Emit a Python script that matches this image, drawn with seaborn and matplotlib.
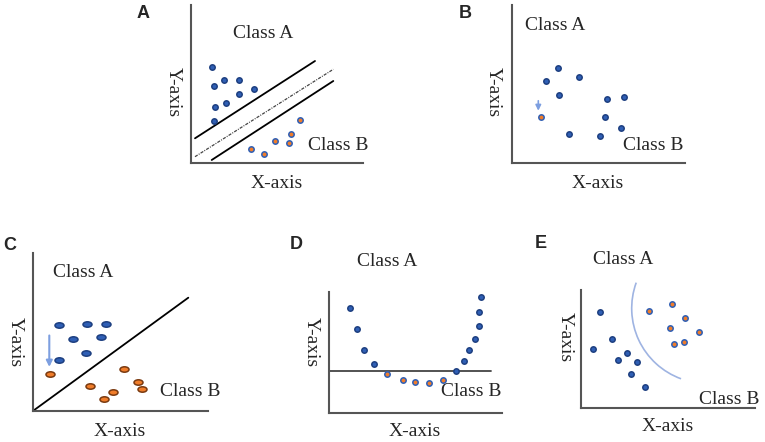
import numpy as np
import pandas as pd
import seaborn as sns
import matplotlib.pyplot as plt
from matplotlib.path import Path
from matplotlib.patches import Arc

sns.set_style("white")
plt.rcParams['font.family'] = ['Liberation Serif', 'DejaVu Serif']

# point positions per panel (pixel units from the axis corner, y up)
a_class_x = [20.7, 32.7, 48.3, 23, 63.3, 48.3, 34.7, 23.7, 22.7]
a_class_y = [96.3, 83, 83, 77, 74, 69.3, 59.7, 55.7, 42]
a_other_x = [60, 73.3, 84, 97.7, 100.3, 109]
a_other_y = [14.3, 9.3, 21.7, 19.7, 29, 43.3]

b_class_x = [46, 33.7, 67, 47, 94.7, 111.7, 92.7, 108.4, 57, 88]
b_class_y = [94.7, 81.7, 86.3, 67.7, 64.3, 66.3, 45.7, 35, 29, 27]
b_other_x = [28.4]
b_other_y = [45.7]

c_class_x = [26, 54, 72.7, 39.4, 67.7, 52.7, 26]
c_class_y = [85.4, 87, 87, 71.7, 73.4, 58, 50.7]
c_other_x = [16.7, 90.7, 104.4, 108.7, 56.7, 80, 70.7]
c_other_y = [36.7, 42, 28.7, 21.7, 24.7, 19, 11.4]

d_class_x = [20.7, 27.4, 34.7, 45, 126.7, 134.7, 139.4, 145.7, 149.7, 149.7, 152]
d_class_y = [105.6, 84, 63.3, 49.3, 42.6, 52.3, 63.6, 74.6, 87.3, 101.3, 116.3]
d_other_x = [57.4, 73.4, 86, 99.7, 113.4]
d_other_y = [39, 33.3, 31.6, 30.3, 33]

e_class_x = [19.3, 31.6, 12.6, 46.3, 37, 56.6, 50.6, 64.3]
e_class_y = [95.7, 68.7, 58.7, 55, 47.7, 45.4, 34, 20.4]
e_other_x = [68.3, 91, 104, 89.3, 118, 93.6, 103]
e_other_y = [97, 103.4, 89.7, 80, 76, 63.7, 66]

blue = '#2f5fb5'
edge = '#1d3f80'
orange = '#f07d2a'
light = '#7d9fe0'

W, H = 765, 442
fig = plt.figure(figsize=(7.65, 4.42), dpi=100)


def panel(left, bottom, w, h, letter, lpos, capos, cbpos, xpos, ypos):
    ax = fig.add_axes([left / W, (H - bottom) / H, w / W, h / H])
    ax.set_xlim(0, w)
    ax.set_ylim(0, h)
    ax.set_xticks([])
    ax.set_yticks([])
    for s in ['top', 'right']:
        ax.spines[s].set_visible(False)
    for s in ['left', 'bottom']:
        ax.spines[s].set_color('#555555')
        ax.spines[s].set_linewidth(1.5)
    ax.text(*lpos, letter, fontsize=13, fontweight='bold', family=['Liberation Sans'],
            ha='center', va='center', clip_on=False)
    ax.text(*capos, 'Class A', fontsize=14, ha='center', va='center', clip_on=False)
    ax.text(*cbpos, 'Class B', fontsize=14, ha='center', va='center', clip_on=False)
    ax.text(*xpos, 'X-axis', fontsize=14, ha='center', va='center', clip_on=False)
    ax.text(*ypos, 'Y-axis', fontsize=14, ha='center', va='center', rotation=270, clip_on=False)
    return ax


def dots(ax, x, y, fc, ec, marker='o', s=15):
    df = pd.DataFrame({'x': x, 'y': y})
    sns.scatterplot(data=df, x='x', y='y', ax=ax, color=fc, edgecolor=ec,
                    linewidth=1.1, marker=marker, s=s, clip_on=False, zorder=3)
    ax.set_xlabel('')
    ax.set_ylabel('')


# A
axA = panel(191, 163, 172, 158, 'A', (-48, 149), (72, 130), (147, 18), (86, -20), (-18, 71))
axA.plot([4, 124], [24.7, 102], color='black', lw=1.3)
axA.plot([4, 142.3], [6.3, 93.7], color='#444444', lw=0.9, dashes=(2.5, 1, 0.8, 1))
axA.plot([20.7, 142.3], [3, 82], color='black', lw=1.3)
dots(axA, a_class_x, a_class_y, blue, edge)
dots(axA, a_other_x, a_other_y, orange, blue)

# B
axB = panel(512.3, 163, 172.7, 158, 'B', (-47.3, 149), (42.7, 137), (140.7, 18), (85.7, -20), (-19.3, 71))
dots(axB, b_class_x, b_class_y, blue, edge)
dots(axB, b_other_x, b_other_y, orange, blue)
axB.annotate('', xy=(26, 49.5), xytext=(26, 65),
             arrowprops=dict(arrowstyle='-|>', color=light, lw=1.2, mutation_scale=8))

# C
ell = Path.unit_circle()
ell = Path(ell.vertices * np.array([1.0, 0.6]), ell.codes)
axC = panel(33.3, 410.7, 174.7, 157.4, 'C', (-24, 165.7), (49.7, 138), (156.7, 19), (86.7, -21), (-18.3, 69))
axC.plot([0, 155], [0, 113], color='black', lw=1.3)
dots(axC, c_class_x, c_class_y, blue, edge, marker=ell, s=42)
dots(axC, c_other_x, c_other_y, orange, '#7a3a10', marker=ell, s=42)
axC.annotate('', xy=(16, 41), xytext=(16, 78),
             arrowprops=dict(arrowstyle='-|>', color=light, lw=1.5, mutation_scale=9))

# D
axD = panel(329.3, 413.3, 172.4, 121.6, 'D', (-32.6, 169.3), (57.4, 151.6), (142.4, 21.6), (85.7, -18.4), (-17.6, 71.6))
axD.plot([0, 161.4], [42.6, 42.6], color='#444444', lw=1.3)
dots(axD, d_class_x, d_class_y, blue, edge)
dots(axD, d_other_x, d_other_y, orange, blue)

# E
axE = panel(580.7, 407.7, 174.3, 117.7, 'E', (-40, 164), (42, 148.4), (148.6, 8.7), (87, -19), (-15.7, 71))
axE.add_patch(Arc((126, 99.4), 150, 150, theta1=160, theta2=250, color='#9fb4e2', lw=1.2, clip_on=False))
dots(axE, e_class_x, e_class_y, blue, edge)
dots(axE, e_other_x, e_other_y, orange, blue)

fig.savefig('out.png', dpi=100)
